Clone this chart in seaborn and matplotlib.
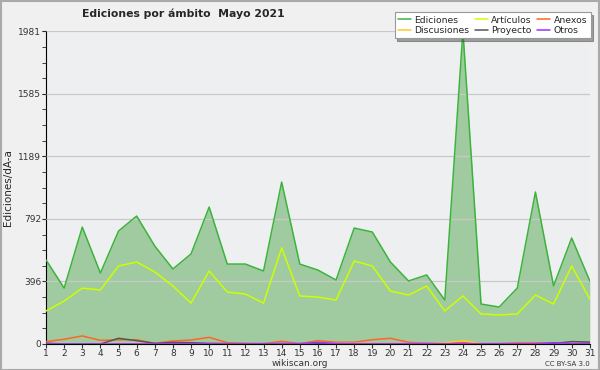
import numpy as np
import pandas as pd
import matplotlib
matplotlib.use("Agg")
import matplotlib.pyplot as plt
import seaborn as sns

# Datos (mayo 2021, ediciones por dia)
days = list(range(1, 32))
ediciones = [532, 354, 740, 449, 715, 810, 620, 475, 570, 867,
             506, 506, 462, 1025, 506, 468, 405, 734, 709, 519,
             399, 437, 278, 1981, 253, 234, 354, 962, 367, 671, 399]
articulos = [209, 272, 354, 342, 494, 519, 456, 367, 259, 462,
             329, 316, 259, 608, 304, 297, 278, 525, 494, 335,
             310, 367, 209, 304, 190, 184, 190, 310, 253, 494, 285]
anexos = [15, 30, 51, 23, 27, 27, 4, 19, 25, 42,
          8, 4, 2, 17, 2, 21, 11, 11, 27, 36,
          11, 4, 8, 8, 2, 2, 8, 8, 4, 4, 4]
discusiones = [2, 2, 2, 2, 2, 3, 2, 2, 2, 3,
               3, 2, 2, 3, 2, 4, 5, 5, 4, 4,
               3, 4, 8, 21, 3, 2, 3, 3, 4, 8, 3]
proyecto = [5, 0, 0, 0, 36, 21, 4, 10, 8, 4,
            3, 2, 2, 3, 2, 2, 2, 2, 2, 2,
            2, 2, 2, 2, 2, 2, 2, 2, 3, 15, 12]
otros = [1, 0, 0, 0, 1, 1, 0, 1, 1, 1,
         1, 1, 1, 2, 2, 10, 3, 2, 1, 1,
         2, 3, 1, 2, 1, 1, 2, 2, 8, 3, 2]

yticks = [0, 396, 792, 1189, 1585, 1981]

df = pd.DataFrame({"dia": days, "Ediciones": ediciones, "Artículos": articulos,
                   "Anexos": anexos, "Discusiones": discusiones,
                   "Proyecto": proyecto, "Otros": otros})

sns.set_style("ticks")
plt.rcParams["font.family"] = ["DejaVu Sans"]

fig = plt.figure(figsize=(6, 3.7), dpi=100, facecolor="#f0f0f0")
ax = fig.add_axes([0.0767, 0.0703, 0.9063, 0.8457])
ax.set_facecolor("#eeeff1")

ax.fill_between(df["dia"], df["Ediciones"], color="#9cc99c", alpha=0.95, zorder=2, lw=0)

colors = {"Ediciones": "#3cb43c", "Discusiones": "#ffcc22", "Artículos": "#ccff00",
          "Proyecto": "#555555", "Anexos": "#ff6622", "Otros": "#9933ff"}
order = ["Ediciones", "Discusiones", "Artículos", "Proyecto", "Anexos", "Otros"]
for name in ["Ediciones", "Artículos", "Anexos", "Discusiones", "Proyecto", "Otros"]:
    sns.lineplot(data=df, x="dia", y=name, ax=ax, color=colors[name],
                 lw=1.1, label=name, zorder=3)

ax.set_xlim(1, 31)
ax.set_ylim(0, 1981)
ax.set_xticks(days)
ax.set_yticks(yticks)
ax.set_yticks(np.arange(0, 1981, 99), minor=True)
ax.tick_params(axis="both", labelsize=6.5, length=3, pad=0.5, colors="#333333")
ax.tick_params(axis="y", which="minor", length=3)
ax.yaxis.grid(True, color="#c8c8c8", lw=0.9, zorder=2.5)
ax.set_axisbelow(False)
for s in ["top", "right"]:
    ax.spines[s].set_visible(False)
ax.spines["left"].set_color("black")
ax.spines["bottom"].set_color("black")
ax.set_xlabel("")
ax.set_ylabel("Ediciones/dÃ-a", fontsize=7.5, labelpad=4)

handles, labels = ax.get_legend_handles_labels()
hmap = dict(zip(labels, handles))
leg = ax.legend([hmap[k] for k in order], order, ncol=3, fontsize=6.7,
                loc="upper right", bbox_to_anchor=(1.01, 1.075), frameon=True,
                fancybox=False, shadow=True, handlelength=1.4, columnspacing=0.6,
                labelspacing=0.15, borderpad=0.35, handletextpad=0.35)
leg.get_frame().set_edgecolor("#999999")
leg.get_frame().set_linewidth(0.8)
leg.set_zorder(10)

fig.text(0.305, 0.962, "Ediciones por ámbito  Mayo 2021", ha="center", va="center",
         fontsize=7.8, fontweight="bold")
fig.text(0.5, 0.018, "wikiscan.org", ha="center", va="center", fontsize=6.5, color="#333333")
fig.text(0.983, 0.016, "CC BY-SA 3.0", ha="right", va="center", fontsize=5, color="#333333")

fig.patches.append(plt.Rectangle((0.001, 0.001), 0.997, 0.996, transform=fig.transFigure,
                                 fill=False, edgecolor="#aaaaaa", lw=1.5))

fig.savefig("out.png", dpi=100, facecolor=fig.get_facecolor())
